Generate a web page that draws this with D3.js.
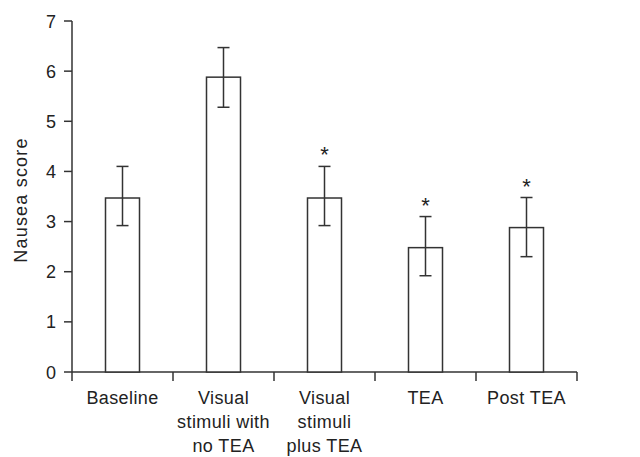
<html>
<head>
  <script src="https://d3js.org/d3.v7.min.js"></script>
  <style>
    body { margin: 0; background: white; }
    text { font-family: "Liberation Sans", Arial, sans-serif; fill: #222; }
  </style>
</head>
<body>
  <svg id="chart" width="640" height="457"></svg>
  <script>
    // data
    const groups = ["Baseline", "Visual stimuli with no TEA", "Visual stimuli plus TEA", "TEA", "Post TEA"];
    const labelLines = [["Baseline"], ["Visual", "stimuli with", "no TEA"], ["Visual", "stimuli", "plus TEA"], ["TEA"], ["Post TEA"]];
    const means = [3.47, 5.88, 3.47, 2.48, 2.88];
    const upper = [4.1, 6.47, 4.1, 3.1, 3.48];
    const lower = [2.92, 5.28, 2.92, 1.92, 2.3];
    const signif = [false, false, true, true, true];
    const yTicks = [0, 1, 2, 3, 4, 5, 6, 7];

    let svg = d3.select("svg#chart");
    const ink = "#333";
    const plotLeft = 72, plotRight = 577, plotTop = 21, plotBottom = 372;

    let x = d3.scaleBand().domain(groups).range([plotLeft, plotRight]);
    let y = d3.scaleLinear().domain([0, 7]).range([plotBottom, plotTop]);
    const barW = 34;

    // y axis
    svg.append("line")
      .attr("x1", plotLeft).attr("x2", plotLeft)
      .attr("y1", y(7)).attr("y2", plotBottom + 9)
      .style("stroke", ink).style("stroke-width", 1.5);
    yTicks.forEach(t => {
      svg.append("line")
        .attr("x1", plotLeft - 8).attr("x2", plotLeft)
        .attr("y1", y(t)).attr("y2", y(t))
        .style("stroke", ink).style("stroke-width", 1.5);
      svg.append("text")
        .text(t)
        .attr("x", plotLeft - 16)
        .attr("y", y(t) + 6.5)
        .style("text-anchor", "end")
        .style("font-size", "18px");
    });

    svg.append("text")
      .text("Nausea score")
      .attr("transform", "translate(21," + 200 + ") rotate(-90)")
      .attr("dy", "0.35em")
      .style("text-anchor", "middle")
      .style("letter-spacing", "1.2px")
      .style("font-size", "18px");

    // x axis
    svg.append("line")
      .attr("x1", plotLeft).attr("x2", plotRight)
      .attr("y1", plotBottom).attr("y2", plotBottom)
      .style("stroke", ink).style("stroke-width", 1.5);
    groups.forEach((g, i) => {
      svg.append("line")
        .attr("x1", x(g) + x.bandwidth()).attr("x2", x(g) + x.bandwidth())
        .attr("y1", plotBottom).attr("y2", plotBottom + 9)
        .style("stroke", ink).style("stroke-width", 1.5);
      labelLines[i].forEach((ln, j) => {
        svg.append("text")
          .text(ln)
          .attr("x", x(g) + x.bandwidth() / 2)
          .attr("y", 404 + j * 24)
          .style("text-anchor", "middle")
          .style("letter-spacing", "0.4px")
          .style("font-size", "18px");
      });
    });

    // bars, error bars, asterisks
    groups.forEach((g, i) => {
      let cx = x(g) + x.bandwidth() / 2;
      svg.append("rect")
        .attr("x", cx - barW / 2)
        .attr("y", y(means[i]))
        .attr("width", barW)
        .attr("height", plotBottom - y(means[i]))
        .style("fill", "white")
        .style("stroke", ink).style("stroke-width", 1.5);
      svg.append("line")
        .attr("x1", cx).attr("x2", cx)
        .attr("y1", y(upper[i])).attr("y2", y(lower[i]))
        .style("stroke", ink).style("stroke-width", 1.5);
      [upper[i], lower[i]].forEach(v => {
        svg.append("line")
          .attr("x1", cx - 6).attr("x2", cx + 6)
          .attr("y1", y(v)).attr("y2", y(v))
          .style("stroke", ink).style("stroke-width", 1.5);
      });
      if (signif[i]) {
        svg.append("text")
          .text("*")
          .attr("x", cx)
          .attr("y", y(upper[i]) - 4)
          .style("text-anchor", "middle")
          .style("font-size", "22px");
      }
    });
  </script>
</body>
</html>
